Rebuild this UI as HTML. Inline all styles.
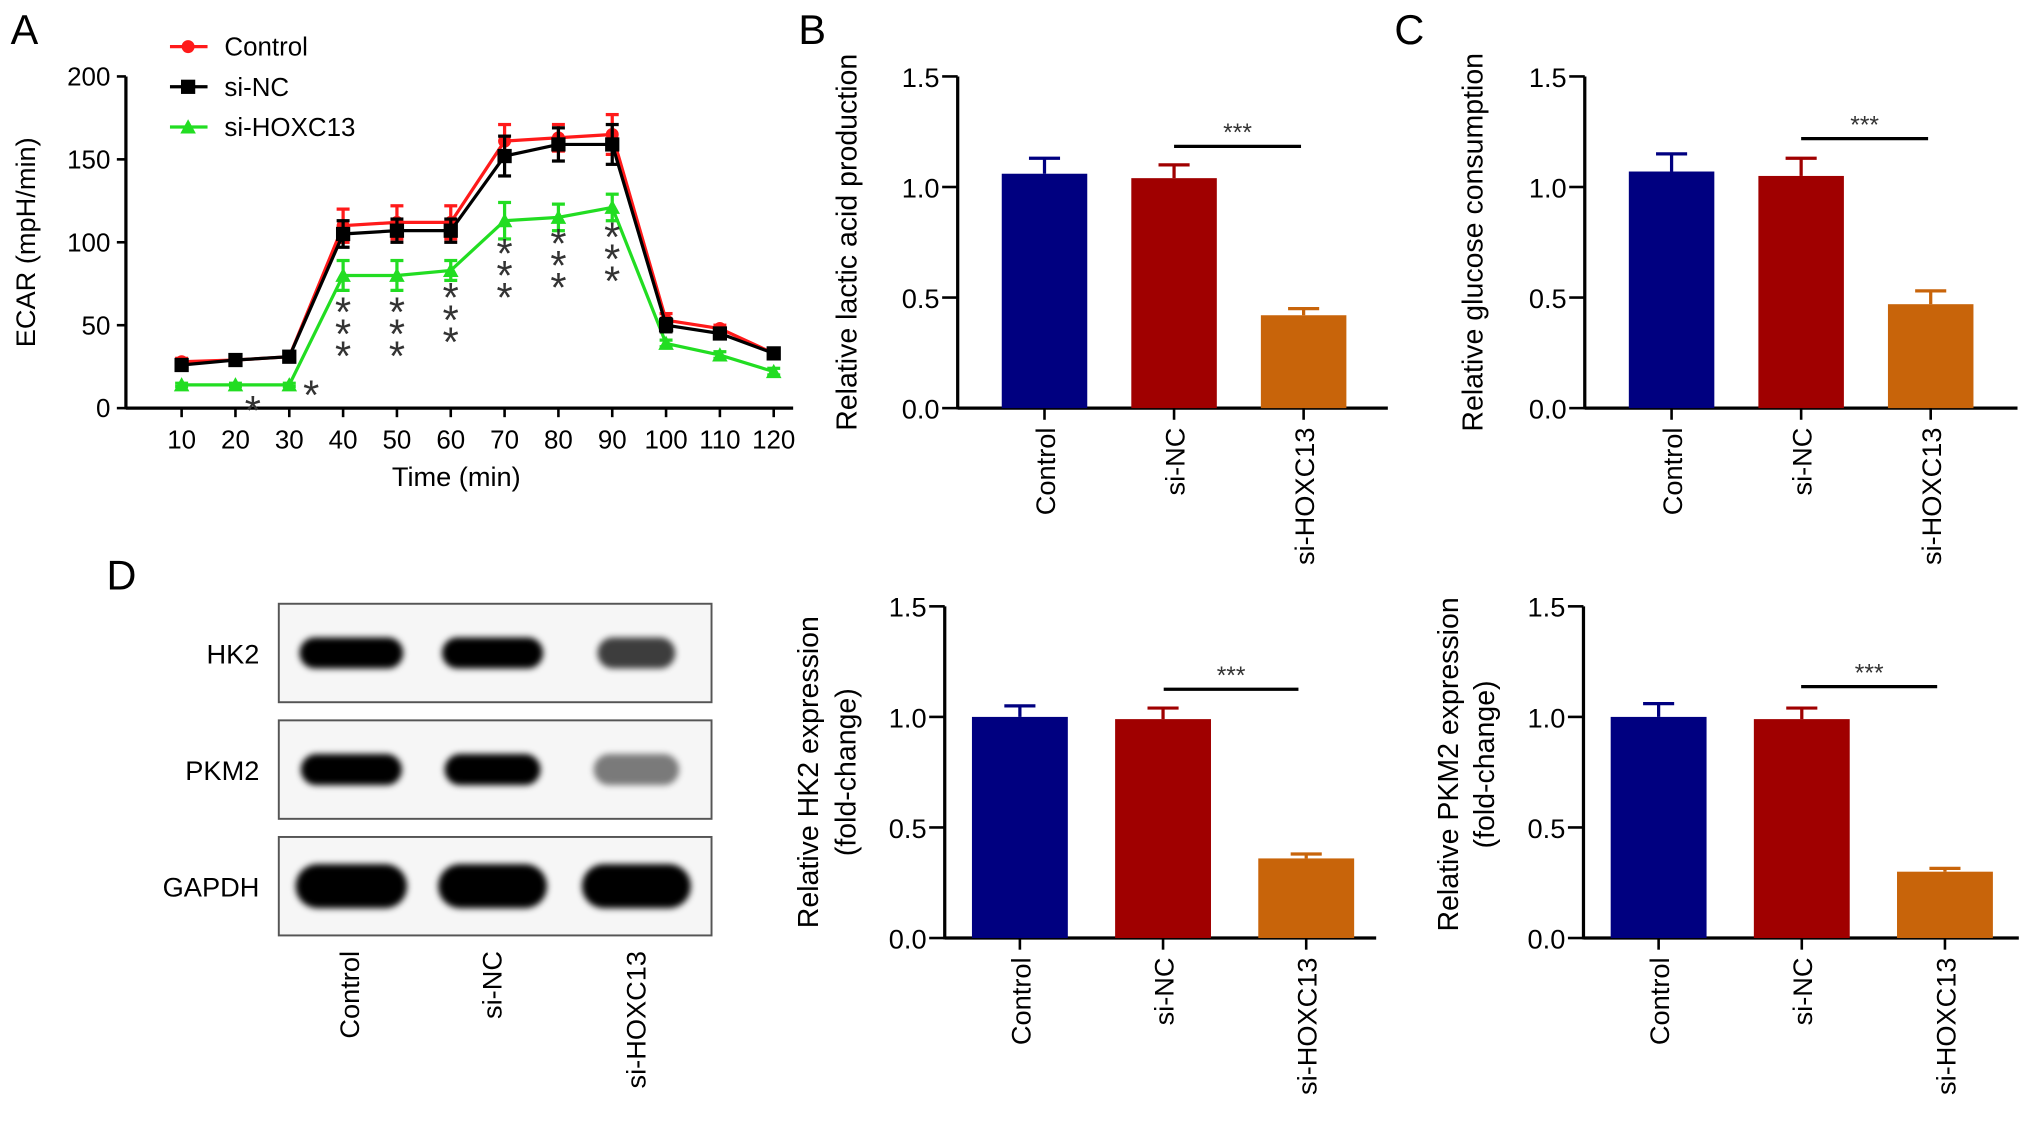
<!DOCTYPE html>
<html><head><meta charset="utf-8"><style>
html,body{margin:0;padding:0;background:#fff;}
svg{display:block;font-family:"Liberation Sans",sans-serif;}
</style></head><body>
<svg id="fig" width="2032" height="1122" viewBox="0 0 1568 866" xmlns="http://www.w3.org/2000/svg">
<defs><filter id="blur" x="-20%" y="-60%" width="140%" height="220%"><feGaussianBlur stdDeviation="2.5"/></filter></defs>
<g id="root"></g>
</svg>
<script>
// Panel A data
const times = [10,20,30,40,50,60,70,80,90,100,110,120];
const ctrlVals = [28,29,31,110,112,112,161,163,165,53,48,33];
const ctrlErr = [2,2,2,10,10,10,10,8,12,4,2,2];
const sincVals = [26,29,31,105,107,107,152,159,159,50,45,33];
const sincErr = [3,2,2,8,7,7,12,10,12,4,3,2];
const hoxVals = [14,14,14,80,80,83,113,115,121,39,32,22];
const hoxErr = [1,1,1,9,9,6,11,8,8,2,2,2];
const aTicks = [0,50,100,150,200];
// Bar data
const groups = ['Control','si-NC','si-HOXC13'];
const lacticVals = [1.06,1.04,0.42];
const lacticErr = [0.07,0.06,0.03];
const glucoseVals = [1.07,1.05,0.47];
const glucoseErr = [0.08,0.08,0.06];
const hk2Vals = [1.0,0.99,0.36];
const hk2Err = [0.05,0.05,0.02];
const pkm2Vals = [1.0,0.99,0.30];
const pkm2Err = [0.06,0.05,0.015];
const barTicks = ['0.0','0.5','1.0','1.5'];

const NS='http://www.w3.org/2000/svg';
const root=document.getElementById('root');
function el(tag,attrs,parent,text){const e=document.createElementNS(NS,tag);for(const k in attrs)e.setAttribute(k,attrs[k]);if(text!==undefined)e.textContent=text;(parent||root).appendChild(e);return e;}

// Panel letters
[['A',8,34],['B',616,34],['C',1076,34],['D',82,455]].forEach(([t,x,y])=>{
  const e=el('text',{x:x,y:y,'font-size':32},root,t);
  
  
});

// ===== Panel A =====
const gA=el('g',{});


const ax0=97, ay0=315, ay1=59;
const xA=t=>140+(t-10)*(597-140)/110;
const yA=v=>ay0-(v/200)*(ay0-ay1);
el('line',{x1:ax0,y1:ay1,x2:ax0,y2:ay0+1,stroke:'#000','stroke-width':2.5},gA);
el('line',{x1:ax0,y1:ay0,x2:612,y2:ay0,stroke:'#000','stroke-width':2.5},gA);
aTicks.forEach(v=>{
  el('line',{x1:ax0-7,y1:yA(v),x2:ax0,y2:yA(v),stroke:'#000','stroke-width':2},gA);
  const t=el('text',{x:ax0-12,y:yA(v)+7,'font-size':20,'text-anchor':'end'},gA,String(v));
  
  
});
times.forEach(tm=>{
  el('line',{x1:xA(tm),y1:ay0,x2:xA(tm),y2:ay0+7,stroke:'#000','stroke-width':2},gA);
  const t=el('text',{x:xA(tm),y:ay0+31,'font-size':20,'text-anchor':'middle'},gA,String(tm));
  
  
});
const yt=el('text',{x:0,y:0,'font-size':21,'text-anchor':'middle',transform:'translate(27,187) rotate(-90)'},gA,'ECAR (mpH/min)');


const xt=el('text',{x:352,y:375,'font-size':21,'text-anchor':'middle'},gA,'Time (min)');



function series(vals,errs,color,marker,name){
  const g=el('g',{},gA);
  
  
  vals.forEach((v,i)=>{
    const x=xA(times[i]);
    el('line',{x1:x,y1:yA(v+errs[i]),x2:x,y2:yA(v-errs[i]),stroke:color,'stroke-width':2.5},g);
    el('line',{x1:x-5,y1:yA(v+errs[i]),x2:x+5,y2:yA(v+errs[i]),stroke:color,'stroke-width':2.5},g);
    el('line',{x1:x-5,y1:yA(v-errs[i]),x2:x+5,y2:yA(v-errs[i]),stroke:color,'stroke-width':2.5},g);
  });
  el('polyline',{points:vals.map((v,i)=>xA(times[i])+','+yA(v)).join(' '),fill:'none',stroke:color,'stroke-width':2.5},g);
  vals.forEach((v,i)=>{
    const x=xA(times[i]),y=yA(v);let m;
    if(marker==='circle')m=el('circle',{cx:x,cy:y,r:5,fill:color},g);
    else if(marker==='square')m=el('rect',{x:x-5.5,y:y-5.5,width:11,height:11,fill:color},g);
    else m=el('polygon',{points:`${x},${y-6} ${x-6},${y+5} ${x+6},${y+5}`,fill:color},g);
    
    
  });
}
series(ctrlVals,ctrlErr,'#ff1a1a','circle','control');
series(hoxVals,hoxErr,'#22dd22','tri','si-hoxc13');
series(sincVals,sincErr,'#000','square','si-nc');

// stars
function star(x,y){const s=el('text',{x:x,y:y,'font-size':32,'text-anchor':'middle',fill:'#333'},gA,'*');}
star(195,328);star(240,316);
[[40,252],[50,252],[60,241],[70,207],[80,199],[90,194]].forEach(([tm,y0])=>{for(let k=0;k<3;k++)star(xA(tm),y0+k*17);});

// legend
[['Control','#ff1a1a','circle',36],['si-NC','#000','square',67],['si-HOXC13','#22dd22','tri',98]].forEach(([n,c,m,y])=>{
  const g=el('g',{},gA);
  
  
  el('line',{x1:131,y1:y,x2:160,y2:y,stroke:c,'stroke-width':2.5},g);
  if(m==='circle')el('circle',{cx:145,cy:y,r:5,fill:c},g);
  else if(m==='square')el('rect',{x:139.5,y:y-5.5,width:11,height:11,fill:c},g);
  else el('polygon',{points:`145,${y-6} 139,${y+5} 151,${y+5}`,fill:c},g);
  el('text',{x:173,y:y+7,'font-size':20},g,n);
});

// ===== Bar charts =====
const barColors=['#000080','#a00000','#c8640a'];
function barChart(o){
  const g=el('g',{});
  
  
  const y=v=>o.y0-(v/1.5)*(o.y0-o.y1);
  el('line',{x1:o.ax,y1:o.y1,x2:o.ax,y2:o.y0+1,stroke:'#000','stroke-width':2.5},g);
  el('line',{x1:o.ax,y1:o.y0,x2:o.axEnd,y2:o.y0,stroke:'#000','stroke-width':2.5},g);
  barTicks.forEach(t=>{
    const v=parseFloat(t);
    el('line',{x1:o.ax-12,y1:y(v),x2:o.ax,y2:y(v),stroke:'#000','stroke-width':2},g);
    const tx=el('text',{x:o.ax-14,y:y(v)+8,'font-size':21,'text-anchor':'end'},g,t);
    
    
  });
  o.vals.forEach((v,i)=>{
    const cx=o.c0+i*o.step;
    const r=el('rect',{x:cx-o.bw/2,y:y(v),width:o.bw,height:o.y0-y(v),fill:barColors[i]},g);
    
    
    el('line',{x1:cx,y1:y(v),x2:cx,y2:y(v+o.errs[i]),stroke:barColors[i],'stroke-width':2.5},g);
    el('line',{x1:cx-12,y1:y(v+o.errs[i]),x2:cx+12,y2:y(v+o.errs[i]),stroke:barColors[i],'stroke-width':2.5},g);
    el('line',{x1:cx,y1:o.y0,x2:cx,y2:o.y0+9,stroke:'#000','stroke-width':2},g);
    const lt=el('text',{x:0,y:0,'font-size':21,'text-anchor':'end',transform:`translate(${cx+8},${o.y0+15}) rotate(-90)`},g,groups[i]);
    
    
  });
  el('line',{x1:o.sig[0],y1:o.sig[2],x2:o.sig[1],y2:o.sig[2],stroke:'#000','stroke-width':2.5},g);
  const st=el('text',{x:(o.sig[0]+o.sig[1])/2,y:o.sig[2]-4,'font-size':19,'text-anchor':'middle',fill:'#333'},g,'***');
  
  
  o.labels.forEach((l,k)=>{
    const t=el('text',{x:0,y:0,'font-size':22,'text-anchor':'middle',transform:`translate(${o.lx[k]},${o.ly}) rotate(-90)`},g,l);
    
    
  });
}
barChart({name:'lactic-acid-chart',ax:739,axEnd:1071,y0:315,y1:59,c0:806,step:100,bw:66,vals:lacticVals,errs:lacticErr,sig:[906,1004,113],labels:['Relative lactic acid production'],lx:[661],ly:187});
barChart({name:'glucose-chart',ax:1223,axEnd:1557,y0:315,y1:59,c0:1290,step:100,bw:66,vals:glucoseVals,errs:glucoseErr,sig:[1390,1488,107],labels:['Relative glucose consumption'],lx:[1144],ly:187});
barChart({name:'hk2-chart',ax:729,axEnd:1062,y0:724,y1:468,c0:787,step:110.5,bw:74,vals:hk2Vals,errs:hk2Err,sig:[898,1002,532],labels:['Relative HK2 expression','(fold-change)'],lx:[631,660],ly:596});
barChart({name:'pkm2-chart',ax:1222,axEnd:1558,y0:724,y1:468,c0:1280,step:110.5,bw:74,vals:pkm2Vals,errs:pkm2Err,sig:[1390,1495,530],labels:['Relative PKM2 expression','(fold-change)'],lx:[1125,1153],ly:590});

// ===== Western blot =====
const gW=el('g',{});


const laneX=[271,380,491];
const bandW=[[80,78,60],[78,74,66],[86,84,84]];
const bandOp=[[1,1,0.75],[1,1,0.5],[1,1,1]];
const bandH=[24,24,34];
['HK2','PKM2','GAPDH'].forEach((p,r)=>{
  const top=466+r*90;
  const b=el('rect',{x:215,y:top,width:334,height:76,fill:'#f6f6f6',stroke:'#555','stroke-width':1.5},gW);
  
  
  laneX.forEach((x,i)=>{
    const w=bandW[r][i];
    const band=el('rect',{x:x-w/2,y:top+38-bandH[r]/2,width:w,height:bandH[r],rx:bandH[r]/2,fill:'#000',opacity:bandOp[r][i],filter:'url(#blur)'},gW);
    
    
  });
  const t=el('text',{x:200,y:top+46,'font-size':21,'text-anchor':'end'},gW,p);
  
  
});
groups.forEach((gname,i)=>{
  const t=el('text',{x:0,y:0,'font-size':21,'text-anchor':'end',transform:`translate(${[277,387,498][i]},${734}) rotate(-90)`},gW,gname);
  
  
});
</script>
</body></html>
